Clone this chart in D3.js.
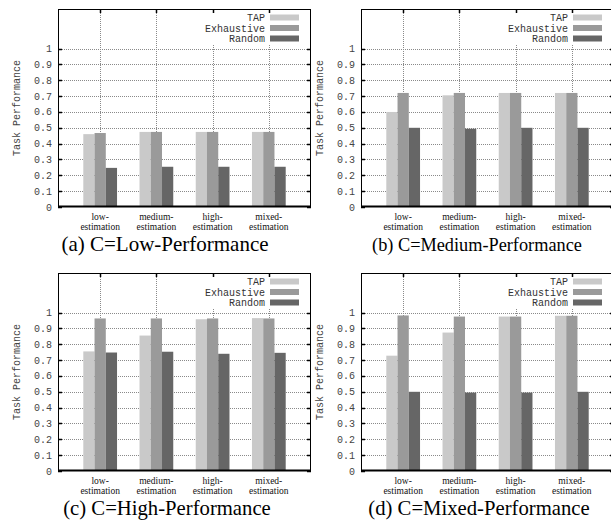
<!DOCTYPE html>
<html>
<head>
<meta charset="utf-8">
<script src="https://cdn.jsdelivr.net/npm/d3@7/dist/d3.min.js"></script>
<style>
  html, body { margin: 0; padding: 0; background: #fff; }
  svg { display: block; }
</style>
</head>
<body>
<svg id="chart" width="611" height="520"></svg>
<script>
const MONO = "'Liberation Mono', 'DejaVu Sans Mono', monospace";
const SERIF = "'Liberation Serif', 'DejaVu Serif', serif";

// Estimation strategies on the x axis (two-line labels)
const categories = [
  ["low-", "estimation"],
  ["medium-", "estimation"],
  ["high-", "estimation"],
  ["mixed-", "estimation"]
];

const series = ["TAP", "Exhaustive", "Random"];
const seriesColors = ["#c9c9c9", "#9a9a9a", "#666666"];

const yTicks = [0, 0.1, 0.2, 0.3, 0.4, 0.5, 0.6, 0.7, 0.8, 0.9, 1];

const captions = [
  "(a) C=Low-Performance",
  "(b) C=Medium-Performance",
  "(c) C=High-Performance",
  "(d) C=Mixed-Performance"
];

// Task performance, one array per series, per capability setting
const lowTAP        = [0.460, 0.474, 0.474, 0.474];
const lowExhaustive = [0.467, 0.474, 0.474, 0.474];
const lowRandom     = [0.247, 0.254, 0.254, 0.254];

const medTAP        = [0.600, 0.705, 0.720, 0.720];
const medExhaustive = [0.720, 0.720, 0.720, 0.720];
const medRandom     = [0.500, 0.494, 0.500, 0.500];

const highTAP        = [0.755, 0.855, 0.958, 0.965];
const highExhaustive = [0.963, 0.963, 0.963, 0.963];
const highRandom     = [0.748, 0.753, 0.740, 0.746];

const mixTAP        = [0.728, 0.874, 0.975, 0.980];
const mixExhaustive = [0.982, 0.975, 0.975, 0.980];
const mixRandom     = [0.500, 0.495, 0.495, 0.500];

const panelData = [
  [lowTAP, lowExhaustive, lowRandom],
  [medTAP, medExhaustive, medRandom],
  [highTAP, highExhaustive, highRandom],
  [mixTAP, mixExhaustive, mixRandom]
];

// Panel layout
const plotW = 253, plotH = 198;
const panels = [
  { left: 58,  top: 9,   capX: 165, capY: 251, capSize: 21 },
  { left: 361, top: 9,   capX: 477, capY: 251, capSize: 18.3 },
  { left: 58,  top: 273, capX: 167, capY: 514.5, capSize: 20.7 },
  { left: 361, top: 273, capX: 479, capY: 514.5, capSize: 20.7 }
];

const svg = d3.select("#chart");

panels.forEach((p, pi) => {
  const g = svg.append("g");
  const x = d3.scaleLinear().domain([-0.75, 3.75]).range([p.left, p.left + plotW]);
  const y = d3.scaleLinear().domain([0, 1.25]).range([p.top + plotH, p.top]);
  const barW = 0.2;

  // dotted grid
  const grid = g.append("g")
    .attr("stroke", "#8a8a8a")
    .attr("stroke-width", 1)
    .attr("stroke-dasharray", "1,1")
    .attr("fill", "none");
  grid.selectAll("line.h")
    .data(yTicks.filter(t => t > 0))
    .join("line")
    .attr("x1", p.left).attr("x2", p.left + plotW)
    .attr("y1", d => Math.round(y(d)) + 0.5).attr("y2", d => Math.round(y(d)) + 0.5);
  grid.selectAll("line.v")
    .data(categories.map((c, i) => i))
    .join("line")
    .attr("x1", d => Math.round(x(d)) + 0.5).attr("x2", d => Math.round(x(d)) + 0.5)
    .attr("y1", p.top).attr("y2", p.top + plotH);

  // key (opaque so the grid is hidden behind it)
  const key = g.append("g");
  const keyTextX = p.left + 207;
  const keyRow = i => p.top + 8.5 + i * 10.5;
  key.append("rect")
    .attr("x", p.left + 142).attr("y", p.top + 2)
    .attr("width", 110).attr("height", 33)
    .attr("fill", "#fff");
  series.forEach((s, si) => {
    key.append("text")
      .attr("font-family", MONO)
      .attr("x", keyTextX).attr("y", keyRow(si) + 3.5)
      .attr("text-anchor", "end")
      .attr("font-size", "10px")
      .attr("fill", "#333")
      .text(s);
    key.append("rect")
      .attr("x", p.left + 212).attr("y", keyRow(si) - 3)
      .attr("width", 29).attr("height", 6)
      .attr("fill", seriesColors[si]);
  });

  // bars
  panelData[pi].forEach((vals, si) => {
    g.append("g")
      .attr("fill", seriesColors[si])
      .selectAll("rect")
      .data(vals)
      .join("rect")
      .attr("x", (d, i) => x(i + (si - 1) * barW - barW / 2))
      .attr("width", x(barW) - x(0))
      .attr("y", d => y(d))
      .attr("height", d => y(0) - y(d));
  });

  // frame
  g.append("rect")
    .attr("x", p.left + 0.5).attr("y", p.top + 0.5)
    .attr("width", plotW - 1).attr("height", plotH - 1)
    .attr("fill", "none").attr("stroke", "#000").attr("stroke-width", 1);
  g.append("line")
    .attr("x1", p.left).attr("x2", p.left + plotW)
    .attr("y1", p.top + plotH - 0.5).attr("y2", p.top + plotH - 0.5)
    .attr("stroke", "#000").attr("stroke-width", 2);

  // y ticks (inward, mirrored) and x ticks along the top
  const ticks = g.append("g").attr("stroke", "#000").attr("stroke-width", 1.5);
  yTicks.forEach(t => {
    const yy = Math.round(y(t)) + 0.5;
    ticks.append("line").attr("x1", p.left).attr("x2", p.left + 4).attr("y1", yy).attr("y2", yy);
    ticks.append("line").attr("x1", p.left + plotW - 4).attr("x2", p.left + plotW).attr("y1", yy).attr("y2", yy);
  });
  categories.forEach((c, i) => {
    const xx = Math.round(x(i)) + 0.5;
    ticks.append("line").attr("x1", xx).attr("x2", xx).attr("y1", p.top).attr("y2", p.top + 4);
  });

  g.selectAll("text.ytick")
    .data(yTicks)
    .join("text")
    .attr("class", "ytick")
    .attr("font-family", MONO)
    .attr("x", p.left - 6)
    .attr("y", d => y(d))
    .attr("dy", "0.35em")
    .attr("text-anchor", "end")
    .attr("font-size", "10px")
    .attr("fill", "#444")
    .text(d => d3.format("")(d));

  // axis title
  g.append("text")
    .attr("font-family", MONO)
    .attr("transform", `translate(${p.left - 38},${p.top + plotH / 2}) rotate(-90)`)
    .attr("text-anchor", "middle")
    .attr("font-size", "10px")
    .attr("fill", "#444")
    .text("Task Performance");

  // category labels
  categories.forEach((c, i) => {
    c.forEach((line, li) => {
      g.append("text")
        .attr("font-family", SERIF)
        .attr("x", x(i))
        .attr("y", p.top + plotH + 12.5 + li * 10.5)
        .attr("text-anchor", "middle")
        .attr("font-size", "9.5px")
        .attr("fill", "#111")
        .text(line);
    });
  });

  // caption
  g.append("text")
    .attr("font-family", SERIF)
    .attr("x", p.capX)
    .attr("y", p.capY)
    .attr("text-anchor", "middle")
    .attr("font-size", p.capSize + "px")
    .attr("fill", "#000")
    .text(captions[pi]);
});
</script>
</body>
</html>
